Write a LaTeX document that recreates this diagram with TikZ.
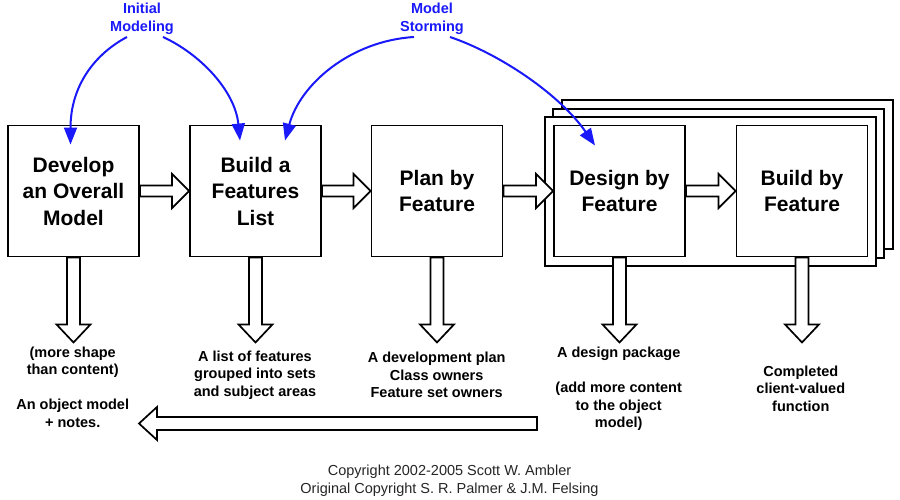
\documentclass[tikz,border=0pt]{standalone}
\usepackage{fontspec}
\setmainfont{Liberation Sans}
\usetikzlibrary{calc, arrows.meta, positioning}
\definecolor{modelblue}{RGB}{25,25,250}

\begin{document}
\begin{tikzpicture}[x=1pt, y=-1pt, >={Triangle[length=17pt,width=13pt]},
  phase/.style={draw, line width=1.9pt, minimum width=131pt, minimum height=131pt,
    align=center, font=\bfseries\fontsize{21}{26.5}\selectfont},
  outcome/.style={align=center, font=\bfseries\fontsize{14.5}{17.5}\selectfont},
  fatarrow/.style={draw, fill=white, line width=1.7pt, line join=miter},
  stackframe/.style={draw, fill=white, line width=1.9pt},
  modellabel/.style={text=modelblue, align=center, inner sep=2pt,
    font=\bfseries\fontsize{14.5}{18}\selectfont},
  modelarrow/.style={->, draw=modelblue, line width=2pt}]
\fill[white] (0,0) rectangle (900,500);
\useasboundingbox (0,0) rectangle (900,500);

% iteration stack behind the last two steps
\draw[stackframe] (562,100) rectangle (893,249);
\draw[stackframe] (553,109) rectangle (884,258);
\draw[stackframe] (545,117) rectangle (876,266);

\node[phase] (dev) at (73.5,191) {Develop\\an Overall\\Model};
\node[phase] (feat) at (255.5,191) {Build a\\Features\\List};
\node[phase] (plan) at (437,191) {Plan by\\Feature};
\node[phase] (design) at (619.5,191) {Design by\\Feature};
\node[phase] (build) at (802,191) {Build by\\Feature};

\node[modellabel] (initial) at (142,19) {Initial\\Modeling};
\node[modellabel] (storming) at (432,19) {Model\\Storming};

\node[outcome] (devout) at (72.7,387.2) {(more shape\\than content)\\[17.5pt]An object model\\+ notes.};
\node[outcome] (featout) at (255,374.8) {A list of features\\grouped into sets\\and subject areas};
\node[outcome] (planout) at (436.7,375) {A development plan\\Class owners\\Feature set owners};
\node[outcome] (designout) at (618.7,389) {A design package\\[17.5pt](add more content\\to the object\\model)};
\node[outcome] (buildout) at (800.8,388.7) {Completed\\client-valued\\function};

\node[align=center, text=black!85, font=\fontsize{14.5}{17.5}\selectfont] (copy) at (449.5,480.5)
  {Copyright 2002-2005 Scott W. Ambler\\Original Copyright S. R. Palmer \& J.M. Felsing};

% steps, left to right
\foreach \a/\b in {dev/feat, feat/plan, plan/design, design/build}
{
  \draw[fatarrow] ($(\a.east)+(0,-5.5)$) -- ($(\b.west)+(-17,-5.5)$) -- ++(0,-11.5)
    -- (\b.west) -- ++(-17,17) -- ++(0,-11.5) -- ($(\a.east)+(0,5.5)$) -- cycle;
}
% what each step delivers
\foreach \b in {dev,feat,plan,design,build}
{
  \draw[fatarrow] ($(\b.south)+(-6.5,0)$) -- ++(0,67) -- ++(-10.5,0) -- ++(17,18)
    -- ++(17,-18) -- ++(-10.5,0) -- ++(0,-67) -- cycle;
}

\coordinate (loopback) at (537,423.5);
\coordinate (looptip) at (139,423.5);
\draw[fatarrow] ($(loopback)+(0,-6.5)$) -- ($(looptip)+(18,-6.5)$) -- ++(0,-10)
  -- (looptip) -- ++(18,16.5) -- ++(0,-10) -- ($(loopback)+(0,6.5)$) -- cycle;

\draw[modelarrow] ($(initial.south)+(-15,0)$) .. controls +(-32,17) and +(0,-59) .. ($(dev.north)+(-3,20)$);
\draw[modelarrow] ($(initial.south)+(21,0)$) .. controls +(37,17) and +(-5,-50) .. ($(feat.north)+(-15.5,16)$);
\draw[modelarrow] ($(storming.south)+(-18,0)$) .. controls +(-64,4) and +(15,-56) .. ($(feat.north)+(29.5,16)$);
\draw[modelarrow] ($(storming.south)+(18,0)$) .. controls +(50,17) and +(-35,-51) .. ($(design.north)+(-24.5,21)$);

\end{tikzpicture}
\end{document}
